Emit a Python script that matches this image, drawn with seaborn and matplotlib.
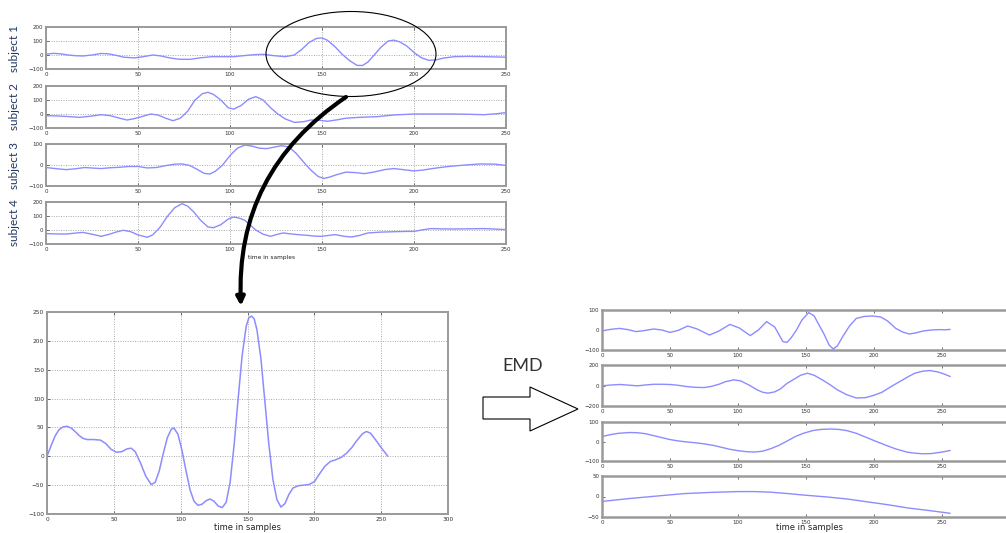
import matplotlib
matplotlib.use("Agg")
import matplotlib.pyplot as plt
import seaborn as sns
from matplotlib.patches import Ellipse, FancyArrowPatch, Polygon

# ---- data (sample index, amplitude) ----
s1_x = [0, 4, 8, 12, 16, 20, 25, 30, 34, 38, 42, 48, 53, 58, 62, 67, 72, 78, 84, 90, 96, 102, 108, 113,
        118, 124, 130, 135, 139, 143, 147, 150, 153, 157, 161, 165, 169, 172, 175, 178, 182, 186, 189,
        192, 196, 200, 204, 208, 212, 216, 222, 230, 238, 245, 251]
s1_y = [5, 12, 8, 0, -5, -7, 0, 11, 8, -2, -15, -21, -12, 0, -6, -20, -30, -31, -20, -12, -12, -12, -4, 2,
        5, -5, -12, 0, 40, 90, 118, 122, 105, 60, 5, -40, -74, -75, -50, -5, 55, 100, 106,
        95, 65, 18, -20, -38, -35, -22, -12, -10, -12, -14, -16]

s2_x = [0, 6, 12, 18, 24, 30, 35, 40, 44, 48, 53, 57, 61, 65, 69, 73, 77, 81, 85, 88, 91, 95, 99, 102,
        106, 110, 114, 118, 122, 126, 130, 135, 140, 144, 149, 153, 158, 163, 170, 180, 189, 200, 210,
        220, 230, 238, 245, 251]
s2_y = [-12, -14, -18, -24, -16, -5, -12, -30, -43, -33, -15, 0, -8, -30, -48, -30, 20, 100, 145, 155, 140,
        100, 45, 35, 60, 105, 124, 100, 45, 0, -35, -60, -55, -43, -45, -52, -42, -30, -24, -19, -7, 0, 0,
        0, -2, -5, 2, 12]

s3_x = [0, 6, 11, 16, 21, 26, 30, 35, 40, 45, 50, 55, 60, 65, 70, 74, 78, 82, 86, 89, 92, 96, 100, 104,
        108, 112, 116, 120, 124, 128, 132, 136, 140, 144, 148, 151, 154, 158, 163, 168, 173, 178, 184,
        189, 194, 200, 205, 210, 215, 220, 228, 236, 244, 251]
s3_y = [-12, -18, -22, -18, -12, -15, -17, -13, -11, -7, -7, -14, -12, -3, 4, 5, -2, -20, -40, -43, -30, 0,
        45, 80, 95, 90, 80, 78, 85, 92, 86, 55, 14, -25, -55, -64, -58, -46, -34, -36, -41, -34, -22,
        -17, -22, -28, -24, -17, -11, -6, 0, 5, 4, -3]

s4_x = [0, 6, 11, 16, 20, 25, 30, 34, 38, 42, 46, 50, 55, 58, 62, 66, 70, 74, 77, 80, 84, 88, 91, 95, 99,
        102, 105, 108, 111, 114, 118, 122, 126, 129, 133, 137, 142, 146, 150, 154, 157, 162, 166, 170,
        175, 182, 190, 196, 200, 205, 209, 215, 220, 228, 238, 245, 251]
s4_y = [-26, -28, -29, -22, -17, -30, -45, -32, -15, -2, -12, -35, -52, -35, 20, 98, 160, 188, 170, 133, 70,
        22, 16, 38, 78, 93, 85, 70, 35, 0, -30, -45, -30, -21, -28, -33, -38, -44, -45, -38, -33, -45,
        -50, -40, -21, -15, -12, -10, -10, 2, 10, 8, 7, 8, 10, 6, 2]

seg_x = [0, 3, 6, 9, 12, 15, 18, 21, 24, 27, 30, 35, 40, 44, 48, 52, 56, 60, 63, 66, 70, 74, 78, 81, 84,
         87, 90, 93, 95, 98, 101, 104, 107, 110, 113, 116, 119, 122, 125, 128, 131, 134, 137, 140, 143,
         146, 149, 151, 153, 155, 157, 160, 163, 166, 169, 172, 175, 178, 181, 184, 188, 192, 196, 200,
         204, 208, 212, 216, 220, 224, 228, 232, 236, 239, 242, 246, 250, 255]
seg_y = [0, 18, 35, 46, 51, 52, 49, 43, 36, 31, 29, 29, 28, 22, 12, 7, 8, 13, 14, 8, -12, -35, -49, -45, -25,
         5, 32, 47, 49, 38, 10, -25, -58, -78, -85, -83, -77, -74, -78, -86, -89, -80, -45, 20, 100,
         175, 225, 240, 243, 238, 220, 170, 95, 20, -40, -75, -88, -82, -66, -55, -51, -50, -49, -44,
         -30, -17, -9, -6, -2, 5, 15, 28, 39, 43, 40, 28, 15, 0]

imf1_x = [0, 6, 13, 19, 25, 31, 38, 44, 50, 56, 63, 70, 79, 86, 94, 101, 109, 115, 121, 127, 133, 136,
          139, 143, 147, 152, 156, 160, 163, 167, 170, 173, 177, 182, 187, 193, 199, 205, 210, 216, 221,
          226, 231, 236, 242, 248, 252, 256]
imf1_y = [-5, 3, 8, 2, -8, -3, 5, 0, -12, -2, 20, 5, -25, -5, 28, 10, -28, 0, 42, 15, -58, -62, -40, 0, 50,
          87, 70, 20, -17, -75, -95, -80, -33, 20, 58, 68, 70, 65, 45, 8, -10, -20, -14, -5, 0, 2, 1, 3]

imf2_x = [0, 7, 13, 20, 26, 32, 38, 44, 50, 56, 62, 68, 75, 80, 86, 91, 97, 102, 108, 114, 118, 122, 127,
          131, 136, 141, 146, 151, 156, 162, 168, 173, 180, 187, 194, 200, 206, 212, 219, 225, 230, 236,
          241, 247, 252, 256]
imf2_y = [-3, 5, 10, 3, -3, 5, 12, 12, 10, 2, -10, -17, -20, -10, 12, 38, 55, 45, 5, -42, -65, -75, -62,
          -35, 20, 60, 100, 120, 100, 55, 5, -42, -90, -122, -118, -95, -65, -15, 39, 85, 120, 140, 146,
          132, 110, 88]

imf3_x = [0, 6, 12, 20, 26, 32, 38, 44, 50, 56, 62, 68, 75, 82, 88, 94, 100, 106, 112, 118, 124, 130, 136,
          142, 148, 155, 161, 168, 174, 180, 187, 194, 201, 209, 216, 224, 230, 236, 242, 246, 251, 256]
imf3_y = [25, 35, 42, 46, 45, 40, 30, 20, 10, 3, -2, -6, -12, -20, -30, -40, -47, -52, -54, -50, -37, -20,
          2, 25, 42, 56, 62, 64, 62, 56, 42, 22, 2, -20, -38, -54, -60, -63, -62, -58, -53, -46]

res_x = [0, 20, 40, 60, 80, 100, 112, 124, 137, 150, 165, 180, 195, 210, 225, 240, 256]
res_y = [-12, -5, 1, 7, 10, 12, 12, 10.5, 7, 3, -1, -6, -13, -20, -28, -34, -41]

subject_labels = ["subject 1", "subject 2", "subject 3", "subject 4"]
xlabel = "time in samples"

# ---- figure ----
sns.set_style("white")
plt.rcParams["font.family"] = ["DejaVu Sans"]

W, H = 1006, 533
fig = plt.figure(figsize=(W / 100, H / 100), dpi=100)
BLUE = "#8c8cff"
SPINE = "#9a9a9a"


def panel(l, t, r, b):
    return fig.add_axes([l / W, 1 - b / H, (r - l) / W, (b - t) / H])


def matlab_style(ax, xticks, yticks, grid=True, fs=4):
    ax.set_xlim(xticks[0], xticks[-1])
    ax.set_ylim(yticks[0], yticks[-1])
    ax.set_xticks(xticks)
    ax.set_yticks(yticks)
    ax.tick_params(direction="in", length=2.5, width=0.6, labelsize=fs, pad=2,
                   top=True, bottom=True, left=True, right=False, colors="#555555",
                   labelcolor="#333333")
    if grid:
        ax.grid(True, linestyle=(0, (1, 1.5)), color="#a8a8a8", linewidth=0.7)
    else:
        ax.grid(False)
    for sp in ax.spines.values():
        sp.set_color(SPINE)
        sp.set_linewidth(1.4)
    ax.set_xlabel("")
    ax.set_ylabel("")


# top four subject panels
top_boxes = [(27, 69), (86, 128), (144, 186), (202, 244)]
top_series = [(s1_x, s1_y), (s2_x, s2_y), (s3_x, s3_y), (s4_x, s4_y)]
top_yticks = [[-100, 0, 100, 200], [-100, 0, 100, 200], [-100, 0, 100], [-100, 0, 100, 200]]
for (t, b), (xs, ys), yt, lab in zip(top_boxes, top_series, top_yticks, subject_labels):
    ax = panel(46, t, 506, b)
    sns.lineplot(x=xs, y=ys, ax=ax, color=BLUE, lw=1.0, sort=False, estimator=None)
    matlab_style(ax, [0, 50, 100, 150, 200, 250], yt)
    fig.text(15 / W, 1 - ((t + b) / 2) / H, lab, rotation=90, ha="center", va="center",
             fontsize=8.5, color="#1f3864", family=["Lato", "DejaVu Sans"])
fig.text(272 / W, 1 - 257 / H, xlabel, ha="center", va="center", fontsize=4.2, color="#222222")

# zoomed segment
ax = panel(47, 312, 448, 514)
sns.lineplot(x=seg_x, y=seg_y, ax=ax, color=BLUE, lw=1.1, sort=False, estimator=None)
matlab_style(ax, [0, 50, 100, 150, 200, 250, 300], [-100, -50, 0, 50, 100, 150, 200, 250], fs=4.2)
fig.text(248 / W, 1 - 528 / H, xlabel, ha="center", va="center", fontsize=6, color="#222222")

# EMD decomposition panels (they run past the right edge, as in the original)
emd_boxes = [(310, 350), (365, 406), (422, 461), (476, 517)]
emd_series = [(imf1_x, imf1_y), (imf2_x, imf2_y), (imf3_x, imf3_y), (res_x, res_y)]
emd_yticks = [[-100, 0, 100], [-200, 0, 200], [-100, 0, 100], [-50, 0, 50]]
for (t, b), (xs, ys), yt in zip(emd_boxes, emd_series, emd_yticks):
    ax = panel(602, t, 1010, b)
    sns.lineplot(x=xs, y=ys, ax=ax, color=BLUE, lw=1.0, sort=False, estimator=None)
    matlab_style(ax, [0, 50, 100, 150, 200, 250, 300], yt, grid=False)
    ax.set_xticklabels(["0", "50", "100", "150", "200", "250", ""])
    ax.tick_params(right=True)
    for sp in ax.spines.values():
        sp.set_linewidth(1.8)
fig.text(810 / W, 1 - 528 / H, xlabel, ha="center", va="center", fontsize=6, color="#222222")

# ellipse around the selected region and the curved arrow
fig.add_artist(Ellipse((351 / W, 1 - 54 / H), 170 / W, 85 / H, transform=fig.transFigure,
                       fill=False, ec="black", lw=0.8))
fig.add_artist(FancyArrowPatch((346 / W, 1 - 97 / H), (241 / W, 1 - 306 / H), transform=fig.transFigure,
                               connectionstyle="arc3,rad=0.28", arrowstyle="-|>", mutation_scale=12,
                               lw=3, color="black", shrinkA=0, shrinkB=0))

# hollow block arrow with EMD caption
arrow_px = [(483, 397), (530, 397), (530, 387), (578, 409), (530, 431), (530, 419), (483, 419)]
fig.add_artist(Polygon([(x / W, 1 - y / H) for x, y in arrow_px], closed=True, fill=False,
                       ec="black", lw=0.8, transform=fig.transFigure))
fig.text(523 / W, 1 - 366 / H, "EMD", ha="center", va="center", fontsize=13, color="#333333",
         family=["Lato", "DejaVu Sans"])

fig.savefig("out.png", dpi=100)
